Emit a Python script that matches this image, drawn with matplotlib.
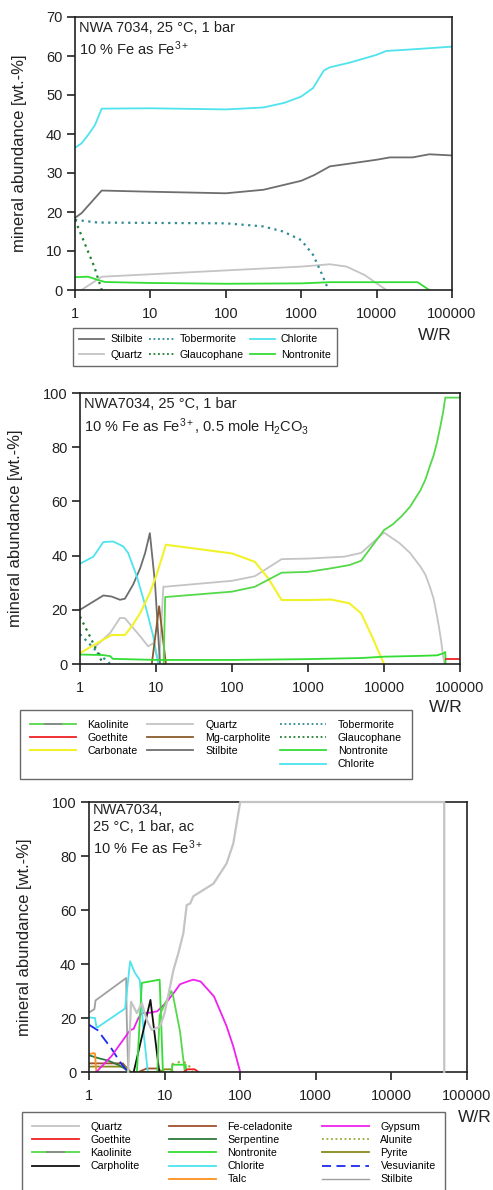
import matplotlib
matplotlib.use("Agg")
import matplotlib.pyplot as plt
from matplotlib.lines import Line2D
from matplotlib.legend_handler import HandlerTuple
from matplotlib.ticker import NullLocator

plt.rcParams['font.family'] = ['Liberation Sans', 'DejaVu Sans']
plt.rcParams['mathtext.fontset'] = 'custom'
plt.rcParams['mathtext.rm'] = 'Liberation Sans'
plt.rcParams['mathtext.it'] = 'Liberation Sans'
plt.rcParams['mathtext.bf'] = 'Liberation Sans'

# Panel 1 : NWA 7034, 25 °C, 1 bar
p1_chl_x = [1, 1.22, 1.5, 1.84, 2.26, 10, 100, 316, 600, 1000, 1440, 1750, 2000, 2400, 4400, 10000, 13500, 24500, 50000, 100000]
p1_chl_y = [36.5, 37.6, 39.8, 42.3, 46.5, 46.6, 46.3, 46.8, 48.0, 49.6, 51.8, 54.5, 56.3, 57.1, 58.3, 60.3, 61.3, 61.6, 62.0, 62.4]
p1_stil_x = [1, 1.22, 2.26, 10, 100, 316, 1000, 1500, 2400, 4000, 10000, 15000, 30000, 50000, 100000]
p1_stil_y = [18.5, 19.7, 25.5, 25.2, 24.8, 25.7, 28.0, 29.5, 31.7, 32.3, 33.4, 34.0, 34.0, 34.8, 34.5]
p1_tob_x = [1, 2, 10, 100, 316, 575, 1000, 1440, 1860, 2300]
p1_tob_y = [18.0, 17.3, 17.2, 17.1, 16.3, 15.0, 12.8, 9.0, 4.3, 0]
p1_gla_x = [1, 1.29, 1.8, 2.26]
p1_gla_y = [18.0, 12.8, 6.0, 0]
p1_qtz_x = [1.22, 2.26, 1000, 2400, 4000, 7000, 10000, 13500]
p1_qtz_y = [0, 3.4, 6.0, 6.6, 6.0, 3.8, 1.7, 0]
p1_non_x = [1, 1.5, 2, 2.5, 10, 100, 1000, 2400, 10000, 35000, 50000]
p1_non_y = [3.3, 3.4, 2.6, 2.05, 1.8, 1.6, 1.7, 2.0, 2.0, 2.0, 0]

# Panel 2 : NWA7034, 25 °C, 1 bar, 0.5 mole H2CO3
p2_chl_x = [1, 1.5, 2.03, 2.74, 3.7, 4.3, 5.6, 7.5, 9.2, 10.7]
p2_chl_y = [37.0, 39.6, 45.0, 45.2, 43.4, 41.0, 32.3, 20.0, 10.2, 0]
p2_stil_x = [1, 2.03, 2.6, 3.36, 3.9, 5.0, 6.2, 7.2, 8.3, 9.7, 11.3]
p2_stil_y = [20.0, 25.3, 24.9, 23.7, 24.1, 29.3, 35.4, 41.0, 48.3, 29.9, 0]
p2_qtz_x = [1.6, 2.5, 3.36, 3.9, 6.2, 7.9, 9.2, 11.0, 12.5, 12.9, 100, 200, 450, 1000, 3000, 5000, 10000,
            16000, 22000, 30000, 35000, 40000, 45000, 49000, 53000, 57000, 60000, 63000]
p2_qtz_y = [6.5, 11.5, 17.0, 16.9, 10.2, 6.5, 7.7, 0, 28.6, 28.5, 30.7, 32.4, 38.7, 38.9, 39.6, 41.0, 48.5,
            44.6, 41.0, 36.0, 33.0, 28.6, 24.0, 18.8, 13.5, 7.7, 2.7, 0]
p2_carb_x = [1, 2.03, 2.6, 3.9, 4.8, 6.2, 8.3, 10.2, 13.5, 100, 200, 300, 450, 1000, 2000, 3500, 5000, 7000, 10000]
p2_carb_y = [4.0, 9.0, 10.7, 10.7, 13.9, 18.8, 26.2, 33.0, 44.0, 40.8, 37.7, 31.6, 23.6, 23.6, 23.8, 22.4, 18.7, 10.0, 0]
p2_kao_x = [12.6, 13.2, 100, 200, 450, 1000, 2000, 3500, 5000, 10000, 13000, 17000, 22000, 30000, 35000,
            40000, 45000, 50000, 55000, 60000, 64000, 100000]
p2_kao_y = [0, 24.7, 26.7, 28.5, 33.7, 34.0, 35.3, 36.5, 38.1, 49.4, 51.5, 54.5, 58.0, 64.0, 68.0,
            72.9, 77.0, 82.0, 87.5, 93.0, 98.3, 98.3]
p2_non_x = [1, 2.0, 2.5, 2.7, 10, 100, 1000, 5000, 10000, 30000, 50000, 60000, 64000, 64500]
p2_non_y = [3.5, 3.3, 2.9, 1.9, 1.5, 1.5, 1.8, 2.2, 2.7, 3.0, 3.2, 3.9, 4.4, 0]
p2_goe_x = [64500, 100000]
p2_goe_y = [1.8, 1.8]
p2_mgc_x = [8.8, 11.0, 13.5]
p2_mgc_y = [0, 21.3, 0]
p2_tob_x = [1, 1.93, 2.5]
p2_tob_y = [11.0, 2.8, 0]
p2_gla_x = [1, 1.35, 1.93, 2.05]
p2_gla_y = [17.5, 10.2, 1.0, 0]

# Panel 3 : NWA7034, 25 °C, 1 bar, ac
p3_qtz_x = [3.3, 3.6, 4.3, 5.0, 5.8, 6.75, 7.9, 8.7, 10, 11.8, 13.1, 15.2, 17.7, 19.6, 21.8, 24, 32.5, 44.4, 66, 81, 100, 50000, 50000]
p3_qtz_y = [0, 26.0, 21.8, 25.5, 19.3, 15.6, 16.3, 16.9, 21.8, 31.6, 37.8, 44.0, 51.4, 61.8, 62.4, 65.1, 67.4, 69.8, 77.2, 84.6, 100, 100, 0]
p3_stil_x = [1, 1.18, 1.22, 3.1, 3.15, 3.3]
p3_stil_y = [22.0, 23.3, 26.5, 34.8, 21.0, 0]
p3_chl_x = [1, 1.2, 1.26, 3.0, 3.5, 4.0, 4.7, 5.3, 6.0]
p3_chl_y = [20.2, 20.0, 16.3, 23.5, 41.0, 37.0, 34.0, 14.0, 0]
p3_carp_x = [3.9, 6.5, 8.5]
p3_carp_y = [0, 26.7, 0]
p3_non_x = [4.3, 5.0, 8.6, 9.5, 12.5, 12.6, 19.0, 19.3]
p3_non_y = [0, 33.0, 34.2, 0, 0, 2.7, 2.7, 0]
p3_kao_x = [8.0, 8.6, 10, 12.3, 13, 16, 18.5]
p3_kao_y = [0, 21.0, 25.0, 30.0, 28.0, 15.0, 0]
p3_gyp_x = [1.25, 2.0, 3.5, 3.9, 4.5, 5.0, 6.5, 8.0, 10.7, 13, 16, 20, 24, 30, 45, 66, 81, 100]
p3_gyp_y = [0, 6.0, 15.5, 16.0, 20.0, 21.8, 22.0, 22.5, 26.0, 29.0, 32.5, 33.5, 34.2, 33.5, 28.0, 17.0, 9.5, 0]
p3_ves_x = [1, 1.3, 2.0, 2.6, 3.0, 3.3]
p3_ves_y = [17.5, 15.5, 8.5, 3.5, 1.3, 0]
p3_talc_x = [1, 1.15, 1.2, 1.25]
p3_talc_y = [6.6, 7.0, 6.8, 0]
p3_serp_x = [1, 1.3, 1.8, 2.5, 3.0, 3.4]
p3_serp_y = [6.2, 5.2, 4.2, 2.5, 1.2, 0]
p3_fecel_x = [1, 2.8, 3.5, 4.5, 5.8, 8.2, 9.2]
p3_fecel_y = [3.2, 3.2, 0, 0, 1.3, 1.3, 0]
p3_pyr_x = [1, 3.0, 3.6, 8.5, 10, 12, 13]
p3_pyr_y = [2.0, 2.0, 0, 0, 1.0, 1.0, 0]
p3_goe_x = [18, 20, 25, 28]
p3_goe_y = [0, 1.0, 1.0, 0]
p3_alu_x = [12.5, 14, 17, 20, 22.5, 23.5]
p3_alu_y = [2.8, 3.5, 3.8, 3.2, 1.0, 0]

xticks = [1, 10, 100, 1000, 10000, 100000]
xticklabels = ['1', '10', '100', '1000', '10000', '100000']

# colours
c_chl = '#4ee3ee'
c_stil = '#6e6e6e'
c_qtz = '#c4c4c4'
c_tob = '#2f8a93'
c_gla = '#1f7f2f'
c_non = '#33dd33'
c_kao = '#55d84a'
c_goe = '#ee2222'
c_carb = '#f2f22a'
c_mgc = '#8b5a2b'
c_carp = '#111111'
c_fecel = '#a0522d'
c_serp = '#2e7a3a'
c_talc = '#ff9020'
c_gyp = '#ee22ee'
c_alu = '#99aa33'
c_pyr = '#8a8a1a'
c_ves = '#1a2aee'
c_stil3 = '#a0a0a0'

lw = 1.3

fig = plt.figure(figsize=(4.93, 11.9), dpi=100)


def style_axes(ax, ymax, ystep, lab_x, wr_x, wr_y):
    ax.set_xscale('log')
    ax.set_xlim(1, 100000)
    ax.set_ylim(0, ymax)
    ax.set_xticks(xticks)
    ax.set_xticklabels(xticklabels)
    ax.xaxis.set_minor_locator(NullLocator())
    ax.set_yticks(range(0, ymax + 1, ystep))
    ax.tick_params(direction='out', length=6, width=1.2, labelsize=10.5, colors='#222222')
    ax.tick_params(axis='x', pad=6)
    ax.tick_params(axis='y', pad=3)
    for s in ax.spines.values():
        s.set_linewidth(1.2)
        s.set_color('#222222')
    ax.set_ylabel('mineral abundance [wt.-%]', fontsize=12, color='#222222')
    ax.yaxis.set_label_coords(lab_x, 0.5)
    fig.text(wr_x, wr_y, 'W/R', fontsize=12.5, ha='center', va='center', color='#222222')


def frame(leg):
    leg.get_frame().set_edgecolor('#444444')
    leg.get_frame().set_linewidth(1.0)


def kao_handle(hl):
    # green line with a grey middle part, as in the original key
    g = Line2D([], [], color=c_kao, lw=lw)
    m = Line2D([], [], color='#8a8a8a', lw=lw, ls=(0, (0.001, hl * 0.3 / lw, hl * 0.4 / lw, 200)))
    return (g, m)


# ---------- panel 1 ----------
ax1 = fig.add_axes([75 / 493, 1 - 290 / 1190, 377 / 493, 273 / 1190])
ax1.plot(p1_chl_x, p1_chl_y, color=c_chl, lw=lw)
ax1.plot(p1_stil_x, p1_stil_y, color=c_stil, lw=lw)
ax1.plot(p1_qtz_x, p1_qtz_y, color=c_qtz, lw=lw)
ax1.plot(p1_tob_x, p1_tob_y, color=c_tob, lw=1.6, ls=(0, (1, 2)))
ax1.plot(p1_gla_x, p1_gla_y, color=c_gla, lw=1.6, ls=(0, (1, 2)))
ax1.plot(p1_non_x, p1_non_y, color=c_non, lw=lw)
style_axes(ax1, 70, 10, -0.127, 435 / 493, 1 - 336 / 1190)
ax1.text(0.01, 0.985, 'NWA 7034, 25 °C, 1 bar\n10 % Fe as Fe$^{3+}$', transform=ax1.transAxes,
         ha='left', va='top', fontsize=10.5, linespacing=1.25, color='#222222')

h1 = [Line2D([], [], color=c_stil, lw=lw, label='Stilbite'),
      Line2D([], [], color=c_qtz, lw=lw, label='Quartz'),
      Line2D([], [], color=c_tob, lw=1.3, ls=(0, (1, 1.5)), label='Tobermorite'),
      Line2D([], [], color=c_gla, lw=1.3, ls=(0, (1, 1.5)), label='Glaucophane'),
      Line2D([], [], color=c_chl, lw=lw, label='Chlorite'),
      Line2D([], [], color=c_non, lw=lw, label='Nontronite')]
leg1 = fig.legend(handles=h1, loc='upper left', bbox_to_anchor=(73 / 493, 1 - 328 / 1190), ncol=3,
                  fontsize=7.7, handlelength=2.3, handletextpad=0.6, columnspacing=0.55,
                  labelspacing=0.5, borderpad=0.6, borderaxespad=0, frameon=True, fancybox=False)
frame(leg1)

# ---------- panel 2 ----------
ax2 = fig.add_axes([80 / 493, 1 - 664 / 1190, 380 / 493, 271 / 1190])
ax2.plot(p2_qtz_x, p2_qtz_y, color=c_qtz, lw=lw)
ax2.plot(p2_stil_x, p2_stil_y, color=c_stil, lw=lw)
ax2.plot(p2_chl_x, p2_chl_y, color=c_chl, lw=lw)
ax2.plot(p2_carb_x, p2_carb_y, color=c_carb, lw=1.5)
ax2.plot(p2_mgc_x, p2_mgc_y, color=c_mgc, lw=lw)
ax2.plot(p2_tob_x, p2_tob_y, color=c_tob, lw=1.6, ls=(0, (1, 2)))
ax2.plot(p2_gla_x, p2_gla_y, color=c_gla, lw=1.6, ls=(0, (1, 2)))
ax2.plot(p2_kao_x, p2_kao_y, color=c_kao, lw=lw, clip_on=False)
ax2.plot(p2_non_x, p2_non_y, color=c_non, lw=lw)
ax2.plot(p2_goe_x, p2_goe_y, color=c_goe, lw=lw)
style_axes(ax2, 100, 20, -0.15, 446 / 493, 1 - 708 / 1190)
ax2.text(0.01, 0.985, 'NWA7034, 25 °C, 1 bar\n10 % Fe as Fe$^{3+}$, 0.5 mole H$_2$CO$_3$',
         transform=ax2.transAxes, ha='left', va='top', fontsize=10.5, linespacing=1.3, color='#222222')

blank = Line2D([], [], color='none', label=' ')
hl2 = 4.3 * 7.7
h2 = [kao_handle(hl2),
      Line2D([], [], color=c_goe, lw=lw),
      Line2D([], [], color=c_carb, lw=1.5),
      blank,
      Line2D([], [], color=c_qtz, lw=lw),
      Line2D([], [], color=c_mgc, lw=lw),
      Line2D([], [], color=c_stil, lw=lw),
      blank,
      Line2D([], [], color=c_tob, lw=1.3, ls=(0, (1, 1.5))),
      Line2D([], [], color=c_gla, lw=1.3, ls=(0, (1, 1.5))),
      Line2D([], [], color=c_non, lw=lw),
      Line2D([], [], color=c_chl, lw=lw)]
lab2 = ['Kaolinite', 'Goethite', 'Carbonate', ' ', 'Quartz', 'Mg-carpholite', 'Stilbite', ' ',
        'Tobermorite', 'Glaucophane', 'Nontronite', 'Chlorite']
leg2 = fig.legend(h2, lab2, loc='upper left', bbox_to_anchor=(20 / 493, 1 - 710 / 1190), ncol=3,
                  fontsize=7.7, handlelength=4.3, handletextpad=1.1, columnspacing=0.9,
                  labelspacing=0.3, borderpad=0.9, borderaxespad=0, frameon=True, fancybox=False,
                  handler_map={tuple: HandlerTuple(ndivide=1, pad=0)})
frame(leg2)

# ---------- panel 3 ----------
ax3 = fig.add_axes([89 / 493, 1 - 1072 / 1190, 378 / 493, 270 / 1190])
ax3.plot(p3_stil_x, p3_stil_y, color=c_stil3, lw=lw)
ax3.plot(p3_fecel_x, p3_fecel_y, color=c_fecel, lw=lw)
ax3.plot(p3_pyr_x, p3_pyr_y, color=c_pyr, lw=lw)
ax3.plot(p3_serp_x, p3_serp_y, color=c_serp, lw=lw)
ax3.plot(p3_talc_x, p3_talc_y, color=c_talc, lw=lw)
ax3.plot(p3_ves_x, p3_ves_y, color=c_ves, lw=lw, ls=(0, (6, 3)))
ax3.plot(p3_gyp_x, p3_gyp_y, color=c_gyp, lw=lw)
ax3.plot(p3_chl_x, p3_chl_y, color=c_chl, lw=lw)
ax3.plot(p3_carp_x, p3_carp_y, color=c_carp, lw=lw)
ax3.plot(p3_non_x, p3_non_y, color=c_non, lw=lw)
ax3.plot(p3_kao_x, p3_kao_y, color=c_kao, lw=lw)
ax3.plot(p3_goe_x, p3_goe_y, color=c_goe, lw=lw)
ax3.plot(p3_alu_x, p3_alu_y, color=c_alu, lw=1.5, ls=(0, (1, 2)))
ax3.plot(p3_qtz_x, p3_qtz_y, color=c_qtz, lw=1.6, zorder=3, clip_on=False)
style_axes(ax3, 100, 20, -0.151, 475 / 493, 1 - 1118 / 1190)
ax3.text(0.01, 0.995, 'NWA7034,\n25 °C, 1 bar, ac\n10 % Fe as Fe$^{3+}$', transform=ax3.transAxes,
         ha='left', va='top', fontsize=10.5, linespacing=1.25, color='#222222')

hl3 = 4.4 * 7.7
h3 = [Line2D([], [], color=c_qtz, lw=lw),
      Line2D([], [], color=c_goe, lw=lw),
      kao_handle(hl3),
      Line2D([], [], color=c_carp, lw=lw),
      blank,
      Line2D([], [], color=c_fecel, lw=lw),
      Line2D([], [], color=c_serp, lw=lw),
      Line2D([], [], color=c_non, lw=lw),
      Line2D([], [], color=c_chl, lw=lw),
      Line2D([], [], color=c_talc, lw=lw),
      Line2D([], [], color=c_gyp, lw=lw),
      Line2D([], [], color=c_alu, lw=1.3, ls=(0, (1, 1.5))),
      Line2D([], [], color=c_pyr, lw=lw),
      Line2D([], [], color=c_ves, lw=lw, ls=(0, (5, 3))),
      Line2D([], [], color=c_stil3, lw=1.0)]
lab3 = ['Quartz', 'Goethite', 'Kaolinite', 'Carpholite', ' ',
        'Fe-celadonite', 'Serpentine', 'Nontronite', 'Chlorite', 'Talc',
        'Gypsum', 'Alunite', 'Pyrite', 'Vesuvianite', 'Stilbite']
leg3 = fig.legend(h3, lab3, loc='upper left', bbox_to_anchor=(22 / 493, 1 - 1112 / 1190), ncol=3,
                  fontsize=7.7, handlelength=4.4, handletextpad=1.1, columnspacing=2.7,
                  labelspacing=0.3, borderpad=0.9, borderaxespad=0, frameon=True, fancybox=False,
                  handler_map={tuple: HandlerTuple(ndivide=1, pad=0)})
frame(leg3)

fig.savefig('out.png', dpi=100)
